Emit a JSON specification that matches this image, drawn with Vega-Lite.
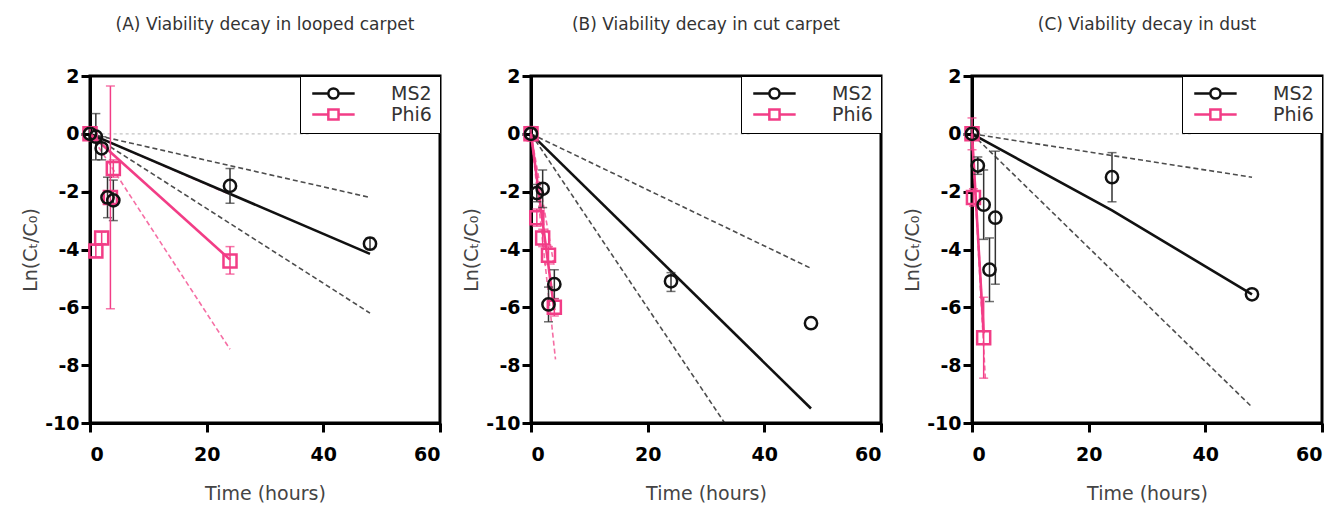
{
  "$schema": "https://vega.github.io/schema/vega-lite/v6.json",
  "padding": {"left": 20, "top": 14, "right": 0, "bottom": 0},
  "background": "white",
  "datasets": {
    "pts": [
      {"panel": "A", "virus": "MS2", "t": 0, "y": 0, "lo": null, "hi": null},
      {"panel": "A", "virus": "MS2", "t": 1, "y": -0.1, "lo": -0.9, "hi": 0.7},
      {"panel": "A", "virus": "MS2", "t": 2, "y": -0.5, "lo": -0.9, "hi": -0.1},
      {"panel": "A", "virus": "MS2", "t": 3, "y": -2.2, "lo": -2.9, "hi": -1.5},
      {"panel": "A", "virus": "MS2", "t": 4, "y": -2.3, "lo": -3.0, "hi": -1.6},
      {"panel": "A", "virus": "MS2", "t": 24, "y": -1.8, "lo": -2.4, "hi": -1.2},
      {"panel": "A", "virus": "MS2", "t": 48, "y": -3.8, "lo": -4.0, "hi": -3.6},
      {"panel": "A", "virus": "Phi6", "t": 0, "y": 0, "lo": -0.2, "hi": 0.2},
      {"panel": "A", "virus": "Phi6", "t": 1, "y": -4.05, "lo": -4.25, "hi": -3.85},
      {"panel": "A", "virus": "Phi6", "t": 2, "y": -3.6, "lo": -3.8, "hi": -3.4},
      {"panel": "A", "virus": "Phi6", "t": 3.5, "y": -2.2, "lo": -6.05, "hi": 1.65},
      {"panel": "A", "virus": "Phi6", "t": 4, "y": -1.2, "lo": -1.5, "hi": -0.9},
      {"panel": "A", "virus": "Phi6", "t": 24, "y": -4.4, "lo": -4.85, "hi": -3.9},
      {"panel": "B", "virus": "MS2", "t": 0, "y": 0, "lo": null, "hi": null},
      {"panel": "B", "virus": "MS2", "t": 1, "y": -2.05, "lo": -2.35, "hi": -1.75},
      {"panel": "B", "virus": "MS2", "t": 2, "y": -1.9, "lo": -2.55, "hi": -1.25},
      {"panel": "B", "virus": "MS2", "t": 3, "y": -5.9, "lo": -6.5, "hi": -5.3},
      {"panel": "B", "virus": "MS2", "t": 4, "y": -5.2, "lo": -5.7, "hi": -4.7},
      {"panel": "B", "virus": "MS2", "t": 24, "y": -5.1, "lo": -5.45, "hi": -4.8},
      {"panel": "B", "virus": "MS2", "t": 48, "y": -6.55, "lo": null, "hi": null},
      {"panel": "B", "virus": "Phi6", "t": 0, "y": 0, "lo": -0.25, "hi": 0.25},
      {"panel": "B", "virus": "Phi6", "t": 1, "y": -2.9, "lo": -3.2, "hi": -2.6},
      {"panel": "B", "virus": "Phi6", "t": 2, "y": -3.6, "lo": -3.9, "hi": -3.3},
      {"panel": "B", "virus": "Phi6", "t": 3, "y": -4.2, "lo": -4.5, "hi": -3.9},
      {"panel": "B", "virus": "Phi6", "t": 4, "y": -6.0, "lo": -6.3, "hi": -5.7},
      {"panel": "C", "virus": "MS2", "t": 0, "y": 0, "lo": null, "hi": null},
      {"panel": "C", "virus": "MS2", "t": 1, "y": -1.1, "lo": -1.4, "hi": -0.8},
      {"panel": "C", "virus": "MS2", "t": 2, "y": -2.45, "lo": -3.65, "hi": -1.25},
      {"panel": "C", "virus": "MS2", "t": 3, "y": -4.7, "lo": -5.8, "hi": -3.6},
      {"panel": "C", "virus": "MS2", "t": 4, "y": -2.9, "lo": -5.2, "hi": -0.6},
      {"panel": "C", "virus": "MS2", "t": 24, "y": -1.5, "lo": -2.35, "hi": -0.65},
      {"panel": "C", "virus": "MS2", "t": 48, "y": -5.55, "lo": null, "hi": null},
      {"panel": "C", "virus": "Phi6", "t": 0, "y": 0, "lo": -0.55, "hi": 0.55},
      {"panel": "C", "virus": "Phi6", "t": 0.25, "y": -2.2, "lo": -2.5, "hi": -1.9},
      {"panel": "C", "virus": "Phi6", "t": 2, "y": -7.05, "lo": -8.45, "hi": -5.65}
    ],
    "lines": [
      {"panel": "A", "virus": "MS2", "kind": "fit", "t": 0, "y": 0},
      {"panel": "A", "virus": "MS2", "kind": "fit", "t": 48, "y": -4.15},
      {"panel": "A", "virus": "MS2", "kind": "hi", "t": 0, "y": 0},
      {"panel": "A", "virus": "MS2", "kind": "hi", "t": 48, "y": -2.2},
      {"panel": "A", "virus": "MS2", "kind": "lo", "t": 0, "y": 0},
      {"panel": "A", "virus": "MS2", "kind": "lo", "t": 48, "y": -6.2},
      {"panel": "A", "virus": "Phi6", "kind": "fit", "t": 0, "y": 0},
      {"panel": "A", "virus": "Phi6", "kind": "fit", "t": 24, "y": -4.35},
      {"panel": "A", "virus": "Phi6", "kind": "hi", "t": 0, "y": 0},
      {"panel": "A", "virus": "Phi6", "kind": "hi", "t": 24, "y": -2.1},
      {"panel": "A", "virus": "Phi6", "kind": "lo", "t": 0, "y": 0},
      {"panel": "A", "virus": "Phi6", "kind": "lo", "t": 24, "y": -7.45},
      {"panel": "B", "virus": "MS2", "kind": "fit", "t": 0, "y": 0},
      {"panel": "B", "virus": "MS2", "kind": "fit", "t": 48, "y": -9.5},
      {"panel": "B", "virus": "MS2", "kind": "hi", "t": 0, "y": 0},
      {"panel": "B", "virus": "MS2", "kind": "hi", "t": 48, "y": -4.65},
      {"panel": "B", "virus": "MS2", "kind": "lo", "t": 0, "y": 0},
      {"panel": "B", "virus": "MS2", "kind": "lo", "t": 33.2, "y": -10},
      {"panel": "B", "virus": "Phi6", "kind": "fit", "t": 0, "y": 0},
      {"panel": "B", "virus": "Phi6", "kind": "fit", "t": 4, "y": -6.1},
      {"panel": "B", "virus": "Phi6", "kind": "hi", "t": 0, "y": 0},
      {"panel": "B", "virus": "Phi6", "kind": "hi", "t": 4, "y": -4.6},
      {"panel": "B", "virus": "Phi6", "kind": "lo", "t": 0, "y": 0},
      {"panel": "B", "virus": "Phi6", "kind": "lo", "t": 4.2, "y": -7.8},
      {"panel": "C", "virus": "MS2", "kind": "fit", "t": 0, "y": 0},
      {"panel": "C", "virus": "MS2", "kind": "fit", "t": 24, "y": -2.65},
      {"panel": "C", "virus": "MS2", "kind": "fit", "t": 48, "y": -5.55},
      {"panel": "C", "virus": "MS2", "kind": "hi", "t": 0, "y": 0},
      {"panel": "C", "virus": "MS2", "kind": "hi", "t": 48, "y": -1.5},
      {"panel": "C", "virus": "MS2", "kind": "lo", "t": 0, "y": 0},
      {"panel": "C", "virus": "MS2", "kind": "lo", "t": 48, "y": -9.45},
      {"panel": "C", "virus": "Phi6", "kind": "fit", "t": 0, "y": 0},
      {"panel": "C", "virus": "Phi6", "kind": "fit", "t": 2, "y": -6.9},
      {"panel": "C", "virus": "Phi6", "kind": "hi", "t": 0, "y": 0},
      {"panel": "C", "virus": "Phi6", "kind": "hi", "t": 1.6, "y": -5.4},
      {"panel": "C", "virus": "Phi6", "kind": "lo", "t": 0, "y": 0},
      {"panel": "C", "virus": "Phi6", "kind": "lo", "t": 2.3, "y": -8.5}
    ],
    "zero": [
      {"panel": "A", "t": 2, "y": 0}, {"panel": "A", "t": 38, "y": 0},
      {"panel": "B", "t": 2, "y": 0}, {"panel": "B", "t": 38, "y": 0},
      {"panel": "C", "t": 1, "y": 0}, {"panel": "C", "t": 38, "y": 0}
    ]
  },
  "hconcat": [
    {
      "width": 350, "height": 347,
      "title": {"text": "(A) Viability decay in looped carpet"},
      "layer": [
        {"data": {"name": "zero"}, "transform": [{"filter": "datum.panel == 'A'"}],
         "mark": {"type": "line", "color": "#c4c4c4", "strokeDash": [3, 3], "strokeWidth": 1.2},
         "encoding": {"x": {"field": "t", "type": "quantitative", "scale": {"domain": [0, 60], "nice": false}, "axis": {"values": [0, 20, 40, 60]}, "title": "Time (hours)"},
                      "y": {"field": "y", "type": "quantitative", "scale": {"domain": [-10, 2], "nice": false}, "axis": {"values": [-10, -8, -6, -4, -2, 0, 2], "labelExpr": "datum.value < 0 ? '-' + abs(datum.value) : '' + datum.value"}, "title": "Ln(Cₜ/C₀)"}}},
        {"data": {"name": "lines"}, "transform": [{"filter": "datum.panel == 'A' && datum.kind != 'fit'"}],
         "mark": {"type": "line", "strokeDash": [5, 3], "strokeWidth": 1.6, "opacity": 0.75},
         "encoding": {"x": {"field": "t", "type": "quantitative", "title": "Time (hours)"}, "y": {"field": "y", "type": "quantitative", "title": "Ln(Cₜ/C₀)"},
                      "detail": [{"field": "virus"}, {"field": "kind"}],
                      "color": {"condition": {"test": "datum.virus == 'MS2'", "value": "#111111"}, "value": "#f23d86"}}},
        {"data": {"name": "lines"}, "transform": [{"filter": "datum.panel == 'A' && datum.kind == 'fit'"}],
         "mark": {"type": "line", "strokeWidth": 2.6},
         "encoding": {"x": {"field": "t", "type": "quantitative", "title": "Time (hours)"}, "y": {"field": "y", "type": "quantitative", "title": "Ln(Cₜ/C₀)"},
                      "detail": {"field": "virus"},
                      "color": {"condition": {"test": "datum.virus == 'MS2'", "value": "#111111"}, "value": "#f23d86"}}},
        {"data": {"name": "pts"}, "transform": [{"filter": "datum.panel == 'A' && datum.lo != null"}],
         "mark": {"type": "errorbar", "ticks": {"size": 9, "thickness": 1.5}, "thickness": 1.5},
         "encoding": {"x": {"field": "t", "type": "quantitative", "title": "Time (hours)"}, "y": {"field": "lo", "type": "quantitative", "title": "Ln(Cₜ/C₀)"}, "y2": {"field": "hi"},
                      "color": {"condition": {"test": "datum.virus == 'MS2'", "value": "#333333"}, "value": "#f23d86"}}},
        {"data": {"name": "pts"}, "transform": [{"filter": "datum.panel == 'A' && datum.virus == 'Phi6'"}],
         "mark": {"type": "point", "shape": "square", "filled": false, "strokeWidth": 2.5, "size": 170, "opacity": 1, "color": "#f23d86"},
         "encoding": {"x": {"field": "t", "type": "quantitative", "title": "Time (hours)"}, "y": {"field": "y", "type": "quantitative", "title": "Ln(Cₜ/C₀)"}}},
        {"data": {"name": "pts"}, "transform": [{"filter": "datum.panel == 'A' && datum.virus == 'MS2'"}],
         "mark": {"type": "point", "shape": "circle", "filled": false, "strokeWidth": 2.5, "size": 150, "opacity": 1, "color": "#111111"},
         "encoding": {"x": {"field": "t", "type": "quantitative", "title": "Time (hours)"}, "y": {"field": "y", "type": "quantitative", "title": "Ln(Cₜ/C₀)"}}},
        {"data": {"name": "pts"}, "transform": [{"filter": "datum.panel == 'none'"}],
         "mark": {"type": "point", "filled": false, "strokeWidth": 2.5, "opacity": 1},
         "encoding": {
           "shape": {"field": "virus", "type": "nominal", "scale": {"domain": ["MS2", "Phi6"], "range": ["M-1.24,0L2.56,0M4.96,0L8.76,0M4.96,0A1.2,1.2,0,1,1,2.56,0A1.2,1.2,0,1,1,4.96,0", "M-1.24,0L2.56,0M4.96,0L8.76,0M2.56,-1.2L4.96,-1.2L4.96,1.2L2.56,1.2Z"]},
                     "legend": {"title": null, "orient": "top-right", "offset": 0, "padding": 8, "rowPadding": 0, "fillColor": "white", "strokeColor": "black",
                                "labelFont": "DejaVu Sans", "labelFontSize": 19, "labelColor": "#333333", "labelOffset": 64,
                                "symbolSize": 72, "symbolStrokeWidth": 2.5, "symbolFillColor": "white"}},
           "color": {"field": "virus", "type": "nominal", "scale": {"domain": ["MS2", "Phi6"], "range": ["#111111", "#f23d86"]},
                     "legend": {"title": null, "orient": "top-right", "offset": 0, "padding": 8, "rowPadding": 0, "fillColor": "white", "strokeColor": "black",
                                "labelFont": "DejaVu Sans", "labelFontSize": 19, "labelColor": "#333333", "labelOffset": 64,
                                "symbolSize": 72, "symbolStrokeWidth": 2.5, "symbolFillColor": "white"}}}}
      ]
    },
    {
      "width": 350, "height": 347,
      "title": {"text": "(B)  Viability decay in cut carpet"},
      "layer": [
        {"data": {"name": "zero"}, "transform": [{"filter": "datum.panel == 'B'"}],
         "mark": {"type": "line", "color": "#c4c4c4", "strokeDash": [3, 3], "strokeWidth": 1.2},
         "encoding": {"x": {"field": "t", "type": "quantitative", "scale": {"domain": [0, 60], "nice": false}, "axis": {"values": [0, 20, 40, 60]}, "title": "Time (hours)"},
                      "y": {"field": "y", "type": "quantitative", "scale": {"domain": [-10, 2], "nice": false}, "axis": {"values": [-10, -8, -6, -4, -2, 0, 2], "labelExpr": "datum.value < 0 ? '-' + abs(datum.value) : '' + datum.value"}, "title": "Ln(Cₜ/C₀)"}}},
        {"data": {"name": "lines"}, "transform": [{"filter": "datum.panel == 'B' && datum.kind != 'fit'"}],
         "mark": {"type": "line", "strokeDash": [5, 3], "strokeWidth": 1.6, "opacity": 0.75},
         "encoding": {"x": {"field": "t", "type": "quantitative", "title": "Time (hours)"}, "y": {"field": "y", "type": "quantitative", "title": "Ln(Cₜ/C₀)"},
                      "detail": [{"field": "virus"}, {"field": "kind"}],
                      "color": {"condition": {"test": "datum.virus == 'MS2'", "value": "#111111"}, "value": "#f23d86"}}},
        {"data": {"name": "lines"}, "transform": [{"filter": "datum.panel == 'B' && datum.kind == 'fit'"}],
         "mark": {"type": "line", "strokeWidth": 2.6},
         "encoding": {"x": {"field": "t", "type": "quantitative", "title": "Time (hours)"}, "y": {"field": "y", "type": "quantitative", "title": "Ln(Cₜ/C₀)"},
                      "detail": {"field": "virus"},
                      "color": {"condition": {"test": "datum.virus == 'MS2'", "value": "#111111"}, "value": "#f23d86"}}},
        {"data": {"name": "pts"}, "transform": [{"filter": "datum.panel == 'B' && datum.lo != null"}],
         "mark": {"type": "errorbar", "ticks": {"size": 9, "thickness": 1.5}, "thickness": 1.5},
         "encoding": {"x": {"field": "t", "type": "quantitative", "title": "Time (hours)"}, "y": {"field": "lo", "type": "quantitative", "title": "Ln(Cₜ/C₀)"}, "y2": {"field": "hi"},
                      "color": {"condition": {"test": "datum.virus == 'MS2'", "value": "#333333"}, "value": "#f23d86"}}},
        {"data": {"name": "pts"}, "transform": [{"filter": "datum.panel == 'B' && datum.virus == 'Phi6'"}],
         "mark": {"type": "point", "shape": "square", "filled": false, "strokeWidth": 2.5, "size": 170, "opacity": 1, "color": "#f23d86"},
         "encoding": {"x": {"field": "t", "type": "quantitative", "title": "Time (hours)"}, "y": {"field": "y", "type": "quantitative", "title": "Ln(Cₜ/C₀)"}}},
        {"data": {"name": "pts"}, "transform": [{"filter": "datum.panel == 'B' && datum.virus == 'MS2'"}],
         "mark": {"type": "point", "shape": "circle", "filled": false, "strokeWidth": 2.5, "size": 150, "opacity": 1, "color": "#111111"},
         "encoding": {"x": {"field": "t", "type": "quantitative", "title": "Time (hours)"}, "y": {"field": "y", "type": "quantitative", "title": "Ln(Cₜ/C₀)"}}},
        {"data": {"name": "pts"}, "transform": [{"filter": "datum.panel == 'none'"}],
         "mark": {"type": "point", "filled": false, "strokeWidth": 2.5, "opacity": 1},
         "encoding": {
           "shape": {"field": "virus", "type": "nominal", "scale": {"domain": ["MS2", "Phi6"], "range": ["M-1.24,0L2.56,0M4.96,0L8.76,0M4.96,0A1.2,1.2,0,1,1,2.56,0A1.2,1.2,0,1,1,4.96,0", "M-1.24,0L2.56,0M4.96,0L8.76,0M2.56,-1.2L4.96,-1.2L4.96,1.2L2.56,1.2Z"]},
                     "legend": {"title": null, "orient": "top-right", "offset": 0, "padding": 8, "rowPadding": 0, "fillColor": "white", "strokeColor": "black",
                                "labelFont": "DejaVu Sans", "labelFontSize": 19, "labelColor": "#333333", "labelOffset": 64,
                                "symbolSize": 72, "symbolStrokeWidth": 2.5, "symbolFillColor": "white"}},
           "color": {"field": "virus", "type": "nominal", "scale": {"domain": ["MS2", "Phi6"], "range": ["#111111", "#f23d86"]},
                     "legend": {"title": null, "orient": "top-right", "offset": 0, "padding": 8, "rowPadding": 0, "fillColor": "white", "strokeColor": "black",
                                "labelFont": "DejaVu Sans", "labelFontSize": 19, "labelColor": "#333333", "labelOffset": 64,
                                "symbolSize": 72, "symbolStrokeWidth": 2.5, "symbolFillColor": "white"}}}}
      ]
    },
    {
      "width": 350, "height": 347,
      "title": {"text": "(C) Viability decay in dust"},
      "layer": [
        {"data": {"name": "zero"}, "transform": [{"filter": "datum.panel == 'C'"}],
         "mark": {"type": "line", "color": "#c4c4c4", "strokeDash": [3, 3], "strokeWidth": 1.2},
         "encoding": {"x": {"field": "t", "type": "quantitative", "scale": {"domain": [0, 60], "nice": false}, "axis": {"values": [0, 20, 40, 60]}, "title": "Time (hours)"},
                      "y": {"field": "y", "type": "quantitative", "scale": {"domain": [-10, 2], "nice": false}, "axis": {"values": [-10, -8, -6, -4, -2, 0, 2], "labelExpr": "datum.value < 0 ? '-' + abs(datum.value) : '' + datum.value"}, "title": "Ln(Cₜ/C₀)"}}},
        {"data": {"name": "lines"}, "transform": [{"filter": "datum.panel == 'C' && datum.kind != 'fit'"}],
         "mark": {"type": "line", "strokeDash": [5, 3], "strokeWidth": 1.6, "opacity": 0.75},
         "encoding": {"x": {"field": "t", "type": "quantitative", "title": "Time (hours)"}, "y": {"field": "y", "type": "quantitative", "title": "Ln(Cₜ/C₀)"},
                      "detail": [{"field": "virus"}, {"field": "kind"}],
                      "color": {"condition": {"test": "datum.virus == 'MS2'", "value": "#111111"}, "value": "#f23d86"}}},
        {"data": {"name": "lines"}, "transform": [{"filter": "datum.panel == 'C' && datum.kind == 'fit'"}],
         "mark": {"type": "line", "strokeWidth": 2.6},
         "encoding": {"x": {"field": "t", "type": "quantitative", "title": "Time (hours)"}, "y": {"field": "y", "type": "quantitative", "title": "Ln(Cₜ/C₀)"},
                      "detail": {"field": "virus"},
                      "color": {"condition": {"test": "datum.virus == 'MS2'", "value": "#111111"}, "value": "#f23d86"}}},
        {"data": {"name": "pts"}, "transform": [{"filter": "datum.panel == 'C' && datum.lo != null"}],
         "mark": {"type": "errorbar", "ticks": {"size": 9, "thickness": 1.5}, "thickness": 1.5},
         "encoding": {"x": {"field": "t", "type": "quantitative", "title": "Time (hours)"}, "y": {"field": "lo", "type": "quantitative", "title": "Ln(Cₜ/C₀)"}, "y2": {"field": "hi"},
                      "color": {"condition": {"test": "datum.virus == 'MS2'", "value": "#333333"}, "value": "#f23d86"}}},
        {"data": {"name": "pts"}, "transform": [{"filter": "datum.panel == 'C' && datum.virus == 'Phi6'"}],
         "mark": {"type": "point", "shape": "square", "filled": false, "strokeWidth": 2.5, "size": 170, "opacity": 1, "color": "#f23d86"},
         "encoding": {"x": {"field": "t", "type": "quantitative", "title": "Time (hours)"}, "y": {"field": "y", "type": "quantitative", "title": "Ln(Cₜ/C₀)"}}},
        {"data": {"name": "pts"}, "transform": [{"filter": "datum.panel == 'C' && datum.virus == 'MS2'"}],
         "mark": {"type": "point", "shape": "circle", "filled": false, "strokeWidth": 2.5, "size": 150, "opacity": 1, "color": "#111111"},
         "encoding": {"x": {"field": "t", "type": "quantitative", "title": "Time (hours)"}, "y": {"field": "y", "type": "quantitative", "title": "Ln(Cₜ/C₀)"}}},
        {"data": {"name": "pts"}, "transform": [{"filter": "datum.panel == 'none'"}],
         "mark": {"type": "point", "filled": false, "strokeWidth": 2.5, "opacity": 1},
         "encoding": {
           "shape": {"field": "virus", "type": "nominal", "scale": {"domain": ["MS2", "Phi6"], "range": ["M-1.24,0L2.56,0M4.96,0L8.76,0M4.96,0A1.2,1.2,0,1,1,2.56,0A1.2,1.2,0,1,1,4.96,0", "M-1.24,0L2.56,0M4.96,0L8.76,0M2.56,-1.2L4.96,-1.2L4.96,1.2L2.56,1.2Z"]},
                     "legend": {"title": null, "orient": "top-right", "offset": 0, "padding": 8, "rowPadding": 0, "fillColor": "white", "strokeColor": "black",
                                "labelFont": "DejaVu Sans", "labelFontSize": 19, "labelColor": "#333333", "labelOffset": 64,
                                "symbolSize": 72, "symbolStrokeWidth": 2.5, "symbolFillColor": "white"}},
           "color": {"field": "virus", "type": "nominal", "scale": {"domain": ["MS2", "Phi6"], "range": ["#111111", "#f23d86"]},
                     "legend": {"title": null, "orient": "top-right", "offset": 0, "padding": 8, "rowPadding": 0, "fillColor": "white", "strokeColor": "black",
                                "labelFont": "DejaVu Sans", "labelFontSize": 19, "labelColor": "#333333", "labelOffset": 64,
                                "symbolSize": 72, "symbolStrokeWidth": 2.5, "symbolFillColor": "white"}}}}
      ]
    }
  ],
  "spacing": 91,
  "bounds": "flush",
  "resolve": {"scale": {"color": "independent", "shape": "independent"}, "legend": {"color": "independent", "shape": "independent"}},
  "config": {
    "font": "DejaVu Sans",
    "view": {"stroke": "black", "strokeWidth": 3},
    "axis": {"domainColor": "black", "domainWidth": 3, "tickColor": "black", "tickWidth": 3, "tickSize": 9, "grid": false,
             "labelFont": "DejaVu Sans", "labelFontWeight": "bold", "labelFontSize": 19, "labelColor": "black",
             "titleFont": "DejaVu Sans", "titleFontWeight": "normal", "titleFontSize": 19, "titleColor": "#444444"},
    "axisX": {"labelPadding": 13, "titlePadding": 20},
    "axisY": {"labelPadding": 2, "titlePadding": 4},
    "title": {"fontSize": 17, "fontWeight": "normal", "color": "#333333", "offset": 33, "anchor": "middle", "font": "DejaVu Sans"}
  }
}
